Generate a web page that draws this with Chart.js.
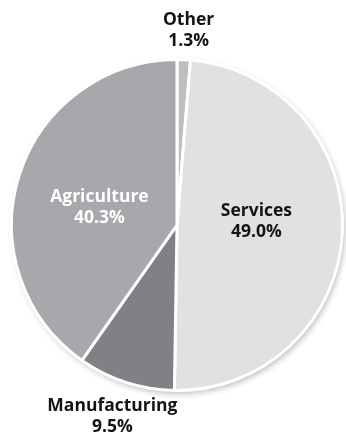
<!DOCTYPE html>
<html>
<head>
<meta charset="utf-8">
<script src="https://cdn.jsdelivr.net/npm/chart.js@4.4.1/dist/chart.umd.min.js"></script>
<style>
  html, body { margin: 0; padding: 0; background: #fff; }
  canvas { display: block; }
</style>
</head>
<body>
<canvas id="sectores" width="346" height="438"></canvas>
<script>
// datos del grafico
const sectores = ['Other', 'Services', 'Manufacturing', 'Agriculture'];
const porcentajes = [1.3, 49.0, 9.5, 40.3];
const colores = ['#bdbec0', '#e1e1e1', '#808184', '#a7a8ab'];
const coloresTexto = ['#141414', '#141414', '#141414', '#ffffff'];

// sombra suave detras del pastel
const sombra = {
    id: 'sombra',
    beforeDatasetsDraw(chart) {
        const arc = chart.getDatasetMeta(0).data[0];
        if (!arc) return;
        const ctx = chart.ctx;
        ctx.save();
        ctx.shadowColor = 'rgba(0,0,0,0.28)';
        ctx.shadowBlur = 6;
        ctx.shadowOffsetX = 2;
        ctx.shadowOffsetY = 3;
        ctx.fillStyle = '#fff';
        ctx.beginPath();
        ctx.arc(arc.x, arc.y, arc.outerRadius, 0, Math.PI * 2);
        ctx.fill();
        ctx.restore();
    }
};

// etiquetas: dentro si la porcion es grande, fuera si es chica
const etiquetas = {
    id: 'etiquetas',
    afterDatasetsDraw(chart) {
        const ctx = chart.ctx;
        const meta = chart.getDatasetMeta(0);
        const grado = Math.PI / 180;
        ctx.save();
        ctx.font = 'bold 17.5px "Open Sans"';
        ctx.textAlign = 'center';
        ctx.textBaseline = 'middle';
        meta.data.forEach((arc, i) => {
            const fuera = porcentajes[i] < 10;
            let mid = (arc.startAngle + arc.endAngle) / 2;
            mid += fuera ? 1 * grado : -5 * grado;
            const r = arc.outerRadius * (fuera ? 1.2 : 0.48);
            const x = arc.x + Math.cos(mid) * r;
            const y = arc.y + Math.sin(mid) * r + (fuera ? 4 : 0);
            ctx.fillStyle = coloresTexto[i];
            ctx.fillText(sectores[i], x, y - 10.5);
            ctx.fillText(porcentajes[i].toFixed(1) + '%', x, y + 10.5);
        });
        ctx.restore();
    }
};

const pastel = new Chart(document.getElementById('sectores'), {
    type: 'pie',
    data: {
        labels: sectores,
        datasets: [{
            data: porcentajes,
            backgroundColor: colores,
            borderColor: '#ffffff',
            borderWidth: 3
        }]
    },
    options: {
        responsive: false,
        animation: false,
        layout: { padding: { top: 58, bottom: 46, left: 10, right: 2 } },
        plugins: {
            legend: { display: false },
            tooltip: { enabled: false }
        }
    },
    plugins: [sombra, etiquetas]
});
</script>
</body>
</html>
